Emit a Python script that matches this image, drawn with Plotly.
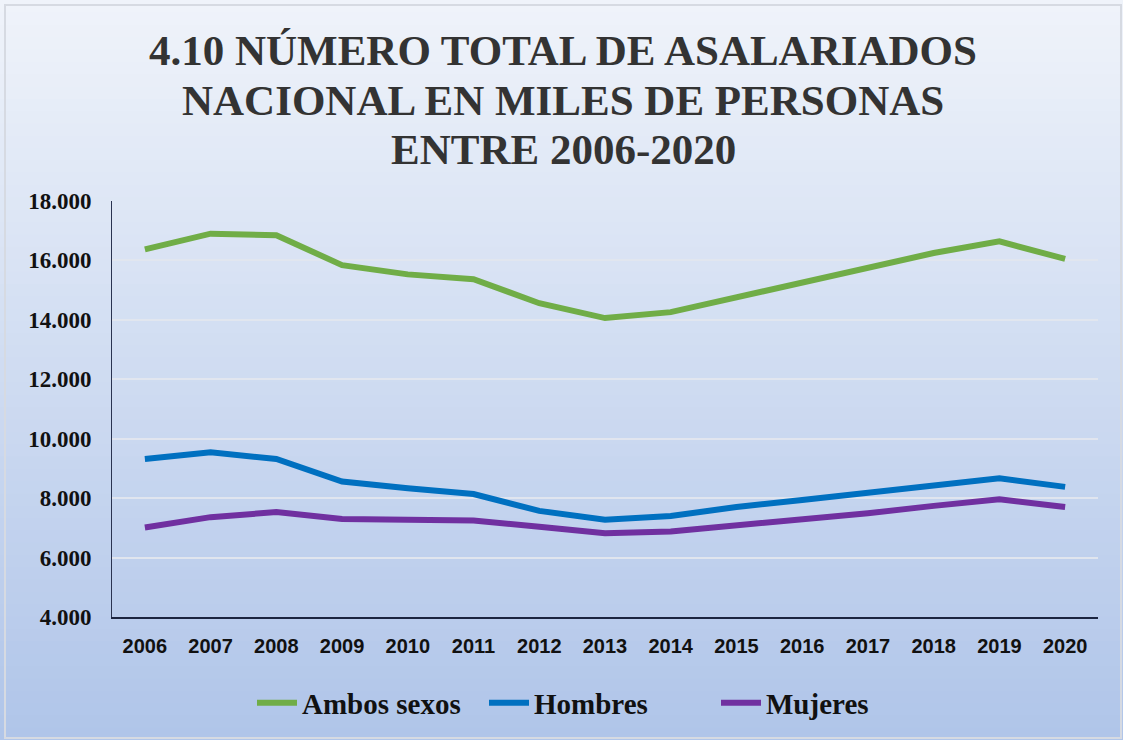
import plotly.graph_objects as go

years = ["2006", "2007", "2008", "2009", "2010", "2011", "2012", "2013",
         "2014", "2015", "2016", "2017", "2018", "2019", "2020"]
ambos = [16370, 16900, 16850, 15840, 15530, 15370, 14560, 14060,
         14260, 14750, 15250, 15730, 16250, 16640, 16050]
hombres = [9320, 9540, 9320, 8560, 8330, 8140, 7570, 7270,
           7400, 7700, 7940, 8190, 8470, 8670, 8380]
mujeres = [7010, 7360, 7530, 7300, 7270, 7250, 7040, 6820,
           6880, 7070, 7270, 7490, 7740, 7960, 7700]
y_ticks = [4000, 6000, 8000, 10000, 12000, 14000, 16000, 18000]
y_tick_labels = ["4.000", "6.000", "8.000", "10.000", "12.000", "14.000", "16.000", "18.000"]
title_lines = ["4.10 NÚMERO TOTAL DE ASALARIADOS",
               "NACIONAL EN MILES DE PERSONAS",
               "ENTRE 2006-2020"]

series = [
    ("Ambos sexos", ambos, "#70ad47"),
    ("Hombres", hombres, "#0070c0"),
    ("Mujeres", mujeres, "#7030a0"),
]

W, H = 1123, 740
ml, mr, mt, mb = 112, 25, 201, 123
pw = W - ml - mr
ph = H - mt - mb

def px_to_py(y_px):
    return (H - mb - y_px) / ph

def px_to_px(x_px):
    return (x_px - ml) / pw

fig = go.Figure()
for name, vals, col in series:
    fig.add_trace(go.Scatter(
        x=years, y=vals, name=name, mode="lines",
        line=dict(color=col, width=6, shape="linear"),
    ))

# vertical gradient background via stacked strips
x0 = px_to_px(0)
x1 = px_to_px(W)
top_c = (239, 243, 250)
bot_c = (176, 197, 233)
n = 60
shapes = []
for i in range(n):
    t = i / (n - 1)
    r = round(top_c[0] + (bot_c[0] - top_c[0]) * t)
    g = round(top_c[1] + (bot_c[1] - top_c[1]) * t)
    b = round(top_c[2] + (bot_c[2] - top_c[2]) * t)
    ytop_px = H * i / n
    ybot_px = H * (i + 1) / n + 1
    shapes.append(dict(
        type="rect", xref="paper", yref="paper", layer="below",
        x0=x0, x1=x1, y0=px_to_py(ybot_px), y1=px_to_py(ytop_px),
        fillcolor=f"rgb({r},{g},{b})", line=dict(width=0),
    ))
# thin outer frame
shapes.append(dict(
    type="rect", xref="paper", yref="paper", layer="below",
    x0=px_to_px(5), x1=px_to_px(W - 2), y0=px_to_py(H - 2), y1=px_to_py(5),
    fillcolor="rgba(0,0,0,0)", line=dict(color="#d6dae2", width=2),
))

title_y_px = [50, 100, 149]
annotations = [
    dict(text=line, xref="paper", yref="paper",
         x=px_to_px(563), y=px_to_py(ypx), xanchor="center", yanchor="middle",
         showarrow=False, align="center",
         font=dict(family="Liberation Serif, Times New Roman, serif", size=43,
                   color="#333333", weight="bold"))
    for line, ypx in zip(title_lines, title_y_px)
]

fig.update_layout(
    width=W, height=H,
    margin=dict(l=ml, r=mr, t=mt, b=mb, autoexpand=False),
    paper_bgcolor="rgba(0,0,0,0)",
    plot_bgcolor="rgba(0,0,0,0)",
    shapes=shapes,
    annotations=annotations,
    showlegend=True,
    legend=dict(
        orientation="h", x=px_to_px(252), xanchor="left", y=px_to_py(703), yanchor="middle",
        font=dict(family="Liberation Serif, Times New Roman, serif", size=29, color="#111111", weight="bold"),
        bgcolor="rgba(0,0,0,0)", itemwidth=40, entrywidth=177,
    ),
    xaxis=dict(
        type="category", range=[-0.5, 14.5], showgrid=False, showline=True,
        linecolor="#1c2540", linewidth=2, automargin=False,
        ticks="", tickfont=dict(family="Liberation Sans, Arial, sans-serif",
                                size=20, color="#111111", weight="bold"),
        ticklabelstandoff=10, fixedrange=True,
    ),
    yaxis=dict(
        range=[4000, 18000], tickvals=y_ticks, ticktext=y_tick_labels,
        showgrid=True, gridcolor="rgba(225,230,238,0.95)", gridwidth=2,
        showline=True, linecolor="#2a3350", linewidth=1, zeroline=False, automargin=False,
        ticks="", tickfont=dict(family="Liberation Serif, Times New Roman, serif", size=23,
                                color="#111111", weight="bold"),
        ticklabelstandoff=15, fixedrange=True,
    ),
)

fig.write_html("out.html", config={"displayModeBar": False},
               post_script="document.body.style.margin='0px';")
